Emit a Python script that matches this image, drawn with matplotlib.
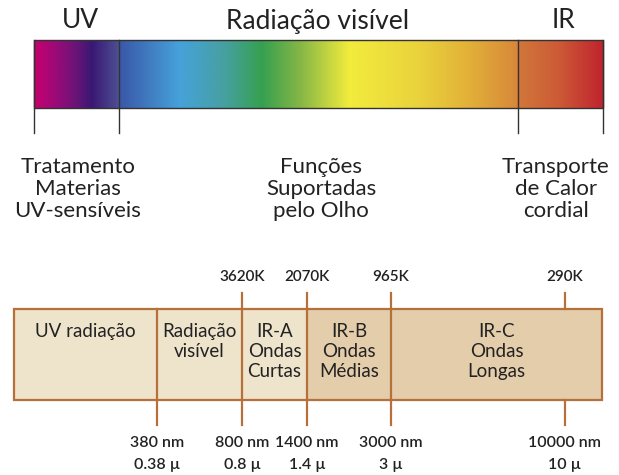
import numpy as np
import matplotlib
matplotlib.use("Agg")
import matplotlib.pyplot as plt
from matplotlib.colors import to_rgb
from matplotlib.patches import Rectangle

plt.rcParams['font.family'] = ['Lato', 'DejaVu Sans']

# ---------------- data ----------------
top_bands = ["UV", "Radiação visível", "IR"]
top_uses = ["Tratamento\nMaterias\nUV-sensíveis",
            "Funções\nSuportadas\npelo Olho",
            "Transporte\nde Calor\ncordial"]
regions = ["UV radiação", "Radiação\nvisível", "IR-A\nOndas\nCurtas",
           "IR-B\nOndas\nMédias", "IR-C\nOndas\nLongas"]
temps = ["3620K", "2070K", "965K", "290K"]
wl_nm = ["380 nm", "800 nm", "1400 nm", "3000 nm", "10000 nm"]
wl_um = ["0.38 µ", "0.8 µ", "1.4 µ", "3 µ", "10 µ"]

# ---------------- layout (pixels) ----------------
W, H = 619, 475
fig = plt.figure(figsize=(W / 100, H / 100), dpi=100)
ax = fig.add_axes([0, 0, 1, 1])
ax.set_xlim(0, W)
ax.set_ylim(H, 0)
ax.axis('off')

txt = '#222222'

# top spectrum bar
bx0, bx1, by0, by1 = 34, 603, 40, 108
bounds_top = [34, 119, 518, 603]
stops = [(34, '#C8006E'), (55, '#9C0A78'), (75, '#6C1478'), (92, '#3A1874'),
         (118, '#4C4E92'), (120, '#3A58A8'), (180, '#46A2DA'), (225, '#46A0A0'),
         (262, '#35A050'), (300, '#84B646'), (350, '#F2EC3C'), (420, '#EAD23C'),
         (470, '#E2B038'), (517, '#D8883A'), (520, '#D2763A'), (560, '#CC5A36'),
         (603, '#C0242E')]
xs = np.arange(bx0, bx1 + 1, 0.5)
sx = [s[0] for s in stops]
cols = np.array([to_rgb(s[1]) for s in stops])
grad = np.stack([np.interp(xs, sx, cols[:, i]) for i in range(3)], axis=-1)
ax.imshow(grad[np.newaxis, :, :], extent=(bx0, bx1, by1, by0), aspect='auto',
          interpolation='bilinear', zorder=1)
ax.add_patch(Rectangle((bx0, by0), bx1 - bx0, by1 - by0, fill=False,
                       ec='#333333', lw=1.0, zorder=3))
for x in bounds_top:
    ax.plot([x, x], [by0, 133], color='#333333', lw=1.0, zorder=3)

band_x = [80, 318, 563]
for label, x in zip(top_bands, band_x):
    ax.text(x, 21, label, ha='center', va='center', fontsize=19, color=txt)

use_x = [78, 321, 556]
for label, x in zip(top_uses, use_x):
    ax.text(x, 189, label, ha='center', va='center', fontsize=16,
            color=txt, linespacing=1.1)

# bottom regions box
edge = '#B8703A'
light = '#EEE3CB'
dark = '#E3CDAB'
px = [14, 157, 242, 307, 391, 602]
fills = [light, light, light, dark, dark]
ty0, ty1 = 309, 400
for i, (label, fc) in enumerate(zip(regions, fills)):
    ax.add_patch(Rectangle((px[i], ty0), px[i + 1] - px[i], ty1 - ty0,
                           fc=fc, ec='none', zorder=1))
    ax.text((px[i] + px[i + 1]) / 2, 323, label, ha='center', va='top',
            fontsize=13.5, color=txt, linespacing=1.2, zorder=4)
ax.add_patch(Rectangle((px[0], ty0), px[-1] - px[0], ty1 - ty0, fill=False,
                       ec=edge, lw=1.6, zorder=3))
for x in px[1:-1]:
    ax.plot([x, x], [ty0, ty1], color=edge, lw=1.6, zorder=3)

# temperature ticks (top)
temp_x = [242, 307, 391, 565]
for label, x in zip(temps, temp_x):
    ax.plot([x, x], [293, ty0], color=edge, lw=1.6, zorder=3)
    ax.text(x, 277, label, ha='center', va='center', fontsize=11,
            color=txt, fontweight='semibold')

# wavelength ticks (bottom)
wl_x = [157, 242, 307, 391, 565]
for nm, um, x in zip(wl_nm, wl_um, wl_x):
    ax.plot([x, x], [ty1, 425], color=edge, lw=1.6, zorder=3)
    ax.text(x, 443, nm, ha='center', va='center', fontsize=11.5,
            color=txt, fontweight='semibold')
    ax.text(x, 465, um, ha='center', va='center', fontsize=11.5,
            color=txt, fontweight='semibold')

fig.savefig('out.png', dpi=100, facecolor='white')
